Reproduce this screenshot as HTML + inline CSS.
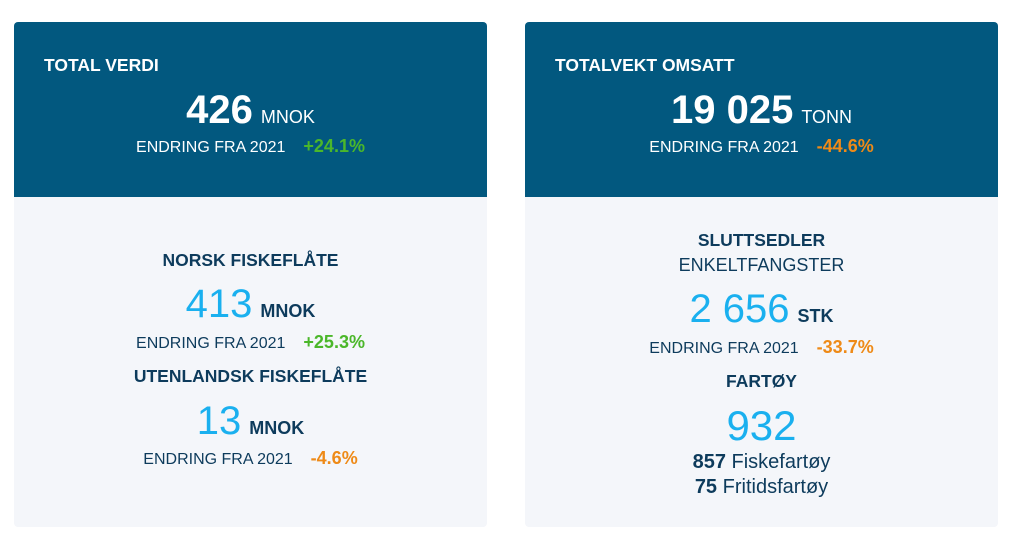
<!DOCTYPE html>
<html><head><meta charset="utf-8"><style>
body{margin:0;width:1019px;height:546px;background:#fff;font-family:"Liberation Sans",sans-serif;position:relative;overflow:hidden}
.card{position:absolute;top:22px;width:473px;height:505px;background:#f4f6fa;border-radius:4px;overflow:hidden}
.hd{position:absolute;left:0;top:0;width:100%;height:175px;background:#02587f}
.l{position:absolute;left:0;width:100%;text-align:center;line-height:30px;height:30px;white-space:nowrap;color:#0d3b5c}
.w{color:#fff}
.t{font-weight:bold;font-size:17.5px}
.e{font-size:16px}
.g{color:#4bb72a;font-weight:bold;font-size:18px;margin-left:18px}
.o{color:#ee8a17;font-weight:bold;font-size:18px;margin-left:18px}
.big{font-size:40px;font-weight:bold}
.c{color:#1ab0ef;font-weight:normal}
.u{font-size:18px;font-weight:bold;margin-left:8px}
.uw{font-size:18px;margin-left:8px}
</style></head><body>
<div class="card" style="left:14px">
 <div class="hd"></div>
 <div class="l w t" style="top:28px;text-align:left;left:30px">TOTAL VERDI</div>
 <div class="l w" style="top:73px"><span class="big">426</span><span class="uw">MNOK</span></div>
 <div class="l w" style="top:109px"><span class="e">ENDRING FRA 2021</span><span class="g">+24.1%</span></div>
 <div class="l t" style="top:223px">NORSK FISKEFLÅTE</div>
 <div class="l" style="top:267px"><span class="big c">413</span><span class="u">MNOK</span></div>
 <div class="l" style="top:305px"><span class="e">ENDRING FRA 2021</span><span class="g">+25.3%</span></div>
 <div class="l t" style="top:339px">UTENLANDSK FISKEFLÅTE</div>
 <div class="l" style="top:384px"><span class="big c">13</span><span class="u">MNOK</span></div>
 <div class="l" style="top:421px"><span class="e">ENDRING FRA 2021</span><span class="o">-4.6%</span></div>
</div>
<div class="card" style="left:525px">
 <div class="hd"></div>
 <div class="l w t" style="top:28px;text-align:left;left:30px">TOTALVEKT OMSATT</div>
 <div class="l w" style="top:73px"><span class="big">19 025</span><span class="uw">TONN</span></div>
 <div class="l w" style="top:109px"><span class="e">ENDRING FRA 2021</span><span class="o">-44.6%</span></div>
 <div class="l t" style="top:203px">SLUTTSEDLER</div>
 <div class="l" style="top:228px;font-size:18px">ENKELTFANGSTER</div>
 <div class="l" style="top:272px"><span class="big c">2 656</span><span class="u">STK</span></div>
 <div class="l" style="top:310px"><span class="e">ENDRING FRA 2021</span><span class="o">-33.7%</span></div>
 <div class="l t" style="top:344px">FARTØY</div>
 <div class="l" style="top:389px"><span class="big c" style="font-size:42px">932</span></div>
 <div class="l" style="top:425px;font-size:20px"><b>857</b> Fiskefartøy</div>
 <div class="l" style="top:450px;font-size:20px"><b>75</b> Fritidsfartøy</div>
</div>
</body></html>
